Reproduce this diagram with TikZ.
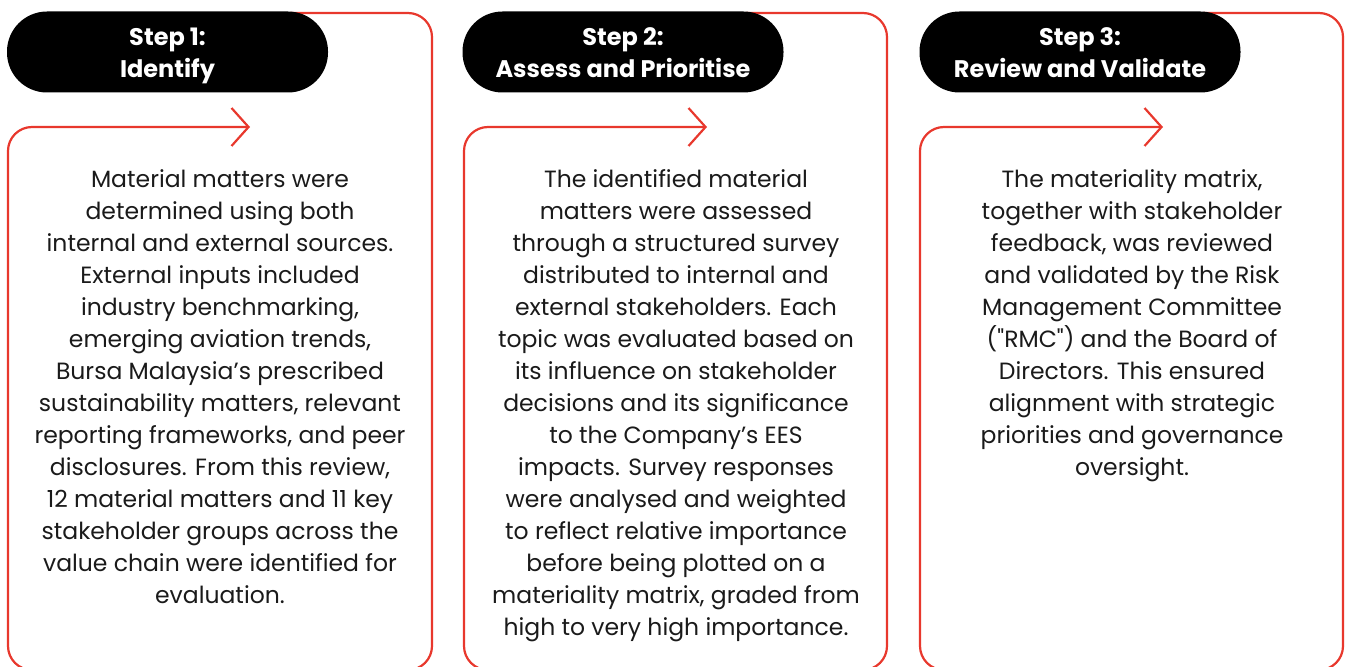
\documentclass[tikz,border=0pt]{standalone}
\usepackage{fontspec}
\setmainfont{Poppins}[Ligatures=TeXOff]
\usetikzlibrary{arrows.meta}

\definecolor{stepred}{RGB}{232,56,45}
\definecolor{bodytext}{RGB}{26,26,26}

% two-line step title, padded so both lines sit at fixed baselines
\newcommand{\steptitle}[2]{\rule{0pt}{28.5pt}#1\\#2\strut}

\tikzset{
	header/.style={fill=black, rounded corners=40pt, minimum width=321pt, minimum height=81pt,
		text=white, align=center, font=\bfseries\fontsize{24}{32}\selectfont},
	frame/.style={draw=stepred, line width=2.2pt, rounded corners=24pt,
		-{Straight Barb[length=17pt,width=38pt,line width=2.2pt]}},
	body/.style={text=bodytext, align=center, inner sep=0pt, anchor=north,
		font=\fontsize{23.5}{32}\selectfont}
}

\begin{document}
\begin{tikzpicture}[x=1pt,y=-1pt]
		\useasboundingbox (0,0) rectangle (1348,666);

		% Frames, drawn first so the headers sit on top
		\draw[frame] (290,13) -- (432,13) -- (432,670) -- (8,670) -- (8,127) -- (250,127);
		\draw[frame] (746,13) -- (887,13) -- (887,670) -- (464,670) -- (464,127) -- (707,127);
		\draw[frame] (1203,13) -- (1343,13) -- (1343,670) -- (920,670) -- (920,127) -- (1163,127);

		% Define nodes
		\node[header] (H1) at (167.5,52) {\steptitle{Step 1:}{Identify}};
		\node[header] (H2) at (623,52) {\steptitle{Step 2:}{Assess and Prioritise}};
		\node[header] (H3) at (1080,52) {\steptitle{Step 3:}{Review and Validate}};

		\node[body] (T1) at (220,169) {Material matters were\\
			determined using both\\
			internal and external sources.\\
			External inputs included\\
			industry benchmarking,\\
			emerging aviation trends,\\
			Bursa Malaysia’s prescribed\\
			sustainability matters, relevant\\
			reporting frameworks, and peer\\
			disclosures. From this review,\\
			12 material matters and 11 key\\
			stakeholder groups across the\\
			value chain were identified for\\
			evaluation.};
		\node[body] (T2) at (676,169) {The identified material\\
			matters were assessed\\
			through a structured survey\\
			distributed to internal and\\
			external stakeholders. Each\\
			topic was evaluated based on\\
			its influence on stakeholder\\
			decisions and its significance\\
			to the Company’s EES\\
			impacts. Survey responses\\
			were analysed and weighted\\
			to reflect relative importance\\
			before being plotted on a\\
			materiality matrix, graded from\\
			high to very high importance.};
		\node[body] (T3) at (1132,169) {The materiality matrix,\\
			together with stakeholder\\
			feedback, was reviewed\\
			and validated by the Risk\\
			Management Committee\\
			("RMC") and the Board of\\
			Directors. This ensured\\
			alignment with strategic\\
			priorities and governance\\
			oversight.};
	\end{tikzpicture}
\end{document}
